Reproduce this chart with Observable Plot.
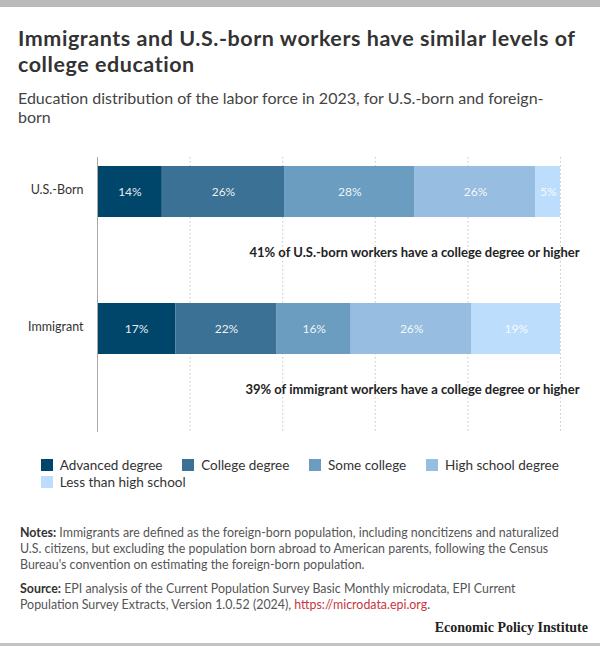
<!DOCTYPE html>
<html>
<head>
<meta charset="utf-8">
<script src="https://cdn.jsdelivr.net/npm/d3@7"></script>
<script src="https://cdn.jsdelivr.net/npm/@observablehq/plot@0.6"></script>
<style>
  html, body { margin: 0; padding: 0; background: #fff; }
  body { width: 600px; height: 669px; position: relative; overflow: hidden; font-family: Lato, "Liberation Sans", sans-serif; }
  .abs { position: absolute; }
  #topbar { left: 0; top: 0; width: 600px; height: 7px; background: #bababa; }
  #title { left: 18px; top: 25px; font-size: 21.5px; line-height: 26px; font-weight: 700; color: #333; letter-spacing: 0.55px; white-space: nowrap; }
  #subtitle { left: 18px; top: 88px; font-size: 16px; line-height: 19px; color: #444; white-space: nowrap; }
  #chart { left: 0; top: 140px; }
  #legend { left: 41px; top: 457px; width: 545px; }
  #legend span { margin-right: 20px !important; }
  #notes { left: 20px; top: 525px; width: 575px; font-size: 12.4px; line-height: 15.8px; color: #555; white-space: nowrap; }
  #notes b { color: #333; }
  #notes p { margin: 0 0 8.5px 0; }
  #notes a { color: #c8363e; text-decoration: none; }
  #epi { right: 12px; top: 620px; font-family: "Liberation Serif", serif; font-weight: 700; font-size: 14px; color: #222; }
  #bottombar { left: 0; top: 643px; width: 600px; height: 3px; background: #c4c4c4; }
</style>
</head>
<body>
<div id="topbar" class="abs"></div>
<div id="title" class="abs">Immigrants and U.S.-born workers have similar levels of<br>college education</div>
<div id="subtitle" class="abs">Education distribution of the labor force in 2023, for U.S.-born and foreign-<br>born</div>
<div id="chart" class="abs"></div>
<div id="legend" class="abs"></div>
<div id="notes" class="abs">
  <p><b>Notes:</b> Immigrants are defined as the foreign-born population, including noncitizens and naturalized<br>U.S. citizens, but excluding the population born abroad to American parents, following the Census<br>Bureau's convention on estimating the foreign-born population.</p>
  <p><b>Source:</b> EPI analysis of the Current Population Survey Basic Monthly microdata, EPI Current<br>Population Survey Extracts, Version 1.0.52 (2024), <a href="https://microdata.epi.org">https://microdata.epi.org</a>.</p>
</div>
<div id="epi" class="abs">Economic Policy Institute</div>
<div id="bottombar" class="abs"></div>
<script>
// ---- data ----
const groups = ["U.S.-Born", "Immigrant"];
const levels = ["Advanced degree", "College degree", "Some college", "High school degree", "Less than high school"];
const usBorn = [14.0, 26.4, 28.2, 26.1, 5.3];
const immigrant = [16.9, 21.9, 16.0, 26.1, 19.1];
const annotations = [
  "41% of U.S.-born workers have a college degree or higher",
  "39% of immigrant workers have a college degree or higher"
];
const gridTicks = [20, 40, 60, 80, 100];
const colors = ["#00466b", "#3a7194", "#6a9dc0", "#97bde0", "#bcddfb"];

const rows = [];
levels.forEach((lv, i) => {
  rows.push({group: groups[0], level: lv, value: usBorn[i]});
  rows.push({group: groups[1], level: lv, value: immigrant[i]});
});
const notes = groups.map((g, i) => ({group: g, text: annotations[i]}));

const stackOpts = {x: "value", y: "group", z: "level", order: levels};

const plot = Plot.plot({
  width: 600,
  height: 300,
  marginLeft: 97,
  marginRight: 40,
  marginTop: 17,
  marginBottom: 8,
  style: {fontFamily: "Lato, sans-serif"},
  x: {domain: [0, 100], axis: null},
  y: {domain: groups, paddingInner: 0.629, paddingOuter: 0.282, align: 0, insetTop: 9, label: null},
  color: {domain: levels, range: colors},
  marks: [
    Plot.ruleX(gridTicks, {stroke: "#c8c8c8", strokeDasharray: "1.5,2.5", strokeWidth: 1}),
    Plot.barX(rows, Plot.stackX({...stackOpts, fill: "level"})),
    Plot.ruleX([0], {stroke: "#a8a8a8", strokeWidth: 1}),
    Plot.text(rows, Plot.stackX({...stackOpts, text: d => Math.round(d.value) + "%", fill: "white", fontSize: 12, fillOpacity: 0.92})),
    Plot.text(notes, {y: "group", text: "text", frameAnchor: "right", textAnchor: "end", dx: 19, dy: 61, fontSize: 13, fontWeight: 700, fill: "#222"}),
    Plot.axisY({tickSize: 0, tickPadding: 14, fontSize: 12.5, color: "#333", dy: -2})
  ]
});
document.getElementById("chart").appendChild(plot);

const leg = plot.legend("color", {swatchSize: 12, style: {fontFamily: "Lato, sans-serif", fontSize: "13.5px", color: "#333"}});
document.getElementById("legend").appendChild(leg);
</script>
</body>
</html>
